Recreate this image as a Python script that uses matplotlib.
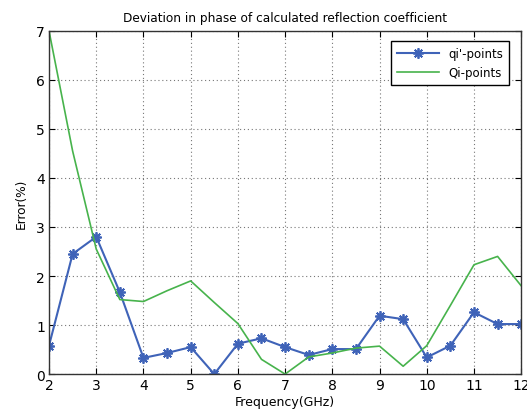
import numpy as np
import matplotlib.pyplot as plt

# frequency points (GHz)
freq = [2, 2.5, 3, 3.5, 4, 4.5, 5, 5.5, 6, 6.5, 7, 7.5, 8, 8.5, 9, 9.5, 10, 10.5, 11, 11.5, 12]
# phase error (%) for the two point sets
qi_err = [0.58, 2.45, 2.8, 1.67, 0.33, 0.43, 0.55, 0.0, 0.62, 0.73, 0.55, 0.39, 0.51, 0.51,
          1.19, 1.12, 0.34, 0.58, 1.26, 1.02, 1.02]
Qi_err = [7.0, 4.55, 2.55, 1.52, 1.48, 1.7, 1.9, 1.46, 1.03, 0.3, 0.0, 0.35, 0.43, 0.53,
          0.57, 0.16, 0.58, 1.4, 2.23, 2.4, 1.8]

fig = plt.figure(figsize=(5.27, 4.14), dpi=100)
ax = fig.add_axes([0.093, 0.094, 0.896, 0.829])

ax.plot(freq, qi_err, color='#3f63b8', marker=(8, 2, 0), markersize=7.5, mew=1.3,
        lw=1.5, label="qi'-points")
ax.plot(freq, Qi_err, color='#47b34c', lw=1.2, label='Qi-points')

ax.set_xlim(2, 12)
ax.set_ylim(0, 7)
ax.set_xticks(range(2, 13))
ax.set_yticks(range(0, 8))
ax.tick_params(direction='in', labelsize=10, length=4, top=True, right=True, pad=3)
ax.grid(True, linestyle=(0, (1, 2.5)), color='#777777', lw=0.8)
for s in ax.spines.values():
    s.set_color('#333333')
    s.set_linewidth(1.0)

ax.set_title('Deviation in phase of calculated reflection coefficient', fontsize=8.7, pad=7)
ax.set_xlabel('Frequency(GHz)', fontsize=9, labelpad=2)
ax.set_ylabel('Error(%)', fontsize=8.7, labelpad=6)

leg = ax.legend(loc='upper right', fontsize=8.5, fancybox=False, framealpha=1,
                edgecolor='black', bbox_to_anchor=(0.975, 0.97), borderaxespad=0,
                handlelength=3.6, borderpad=0.5)
leg.get_frame().set_linewidth(1.0)

fig.savefig('out.png', dpi=100)
